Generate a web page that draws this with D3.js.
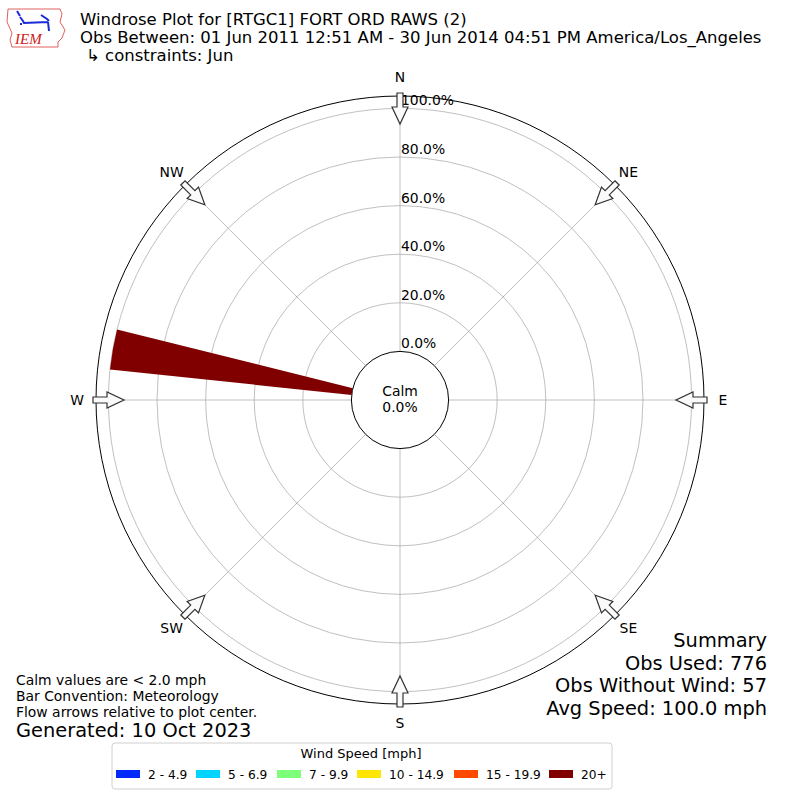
<!DOCTYPE html>
<html>
<head>
<meta charset="utf-8">
<script src="https://cdn.jsdelivr.net/npm/d3@7"></script>
<style>
body { margin: 0; background: #fff; }
text { font-family: "DejaVu Sans", sans-serif; fill: #000; }
</style>
</head>
<body>
<svg id="chart" width="800" height="800"></svg>
<script>
// data
var titleLines = ["Windrose Plot for [RTGC1] FORT ORD RAWS (2)",
  "Obs Between: 01 Jun 2011 12:51 AM - 30 Jun 2014 04:51 PM America/Los_Angeles",
  "\u21b3 constraints: Jun"];
var compassLabels = ["N", "NE", "E", "SE", "S", "SW", "W", "NW"];
var compassAngles = [0, 45, 90, 135, 180, 225, 270, 315];
var ringTicks = [0, 20, 40, 60, 80, 100];
var speedLabels = ["2 - 4.9", "5 - 6.9", "7 - 9.9", "10 - 14.9", "15 - 19.9", "20+"];
var speedColors = ["#0028ff", "#00d4ff", "#7dff7a", "#ffe500", "#ff4800", "#800000"];
var barDirections = [280];
// percent of obs per speed bin, one value per direction
var barPercents = [[0], [0], [0], [0], [0], [100]];
var calmPct = "0.0%";
var summaryLines = ["Summary", "Obs Used: 776", "Obs Without Wind: 57", "Avg Speed: 100.0 mph"];
var noteLines = ["Calm values are < 2.0 mph", "Bar Convention: Meteorology", "Flow arrows relative to plot center."];
var generated = "Generated: 10 Oct 2023";

var small = "13.9px";
var svg = d3.select("#chart");
var cx = 400, cy = 400;
var calmR = 48.6, outerR = 304;
var r = d3.scaleLinear().domain([0, 100]).range([calmR, 291.6]);
var rad = function(deg) { return deg * Math.PI / 180; };

var g = svg.append("g").attr("transform", "translate(" + cx + "," + cy + ")");

// rings
g.selectAll("circle.ring")
  .data(ringTicks.slice(1))
  .enter().append("circle")
  .attr("r", function(d) { return r(d); })
  .style("fill", "none")
  .style("stroke", "#b0b0b0")
  .style("stroke-width", 0.8);

// spokes
g.selectAll("line.spoke")
  .data(compassAngles)
  .enter().append("line")
  .attr("x1", function(d) { return calmR * Math.sin(rad(d)); })
  .attr("y1", function(d) { return -calmR * Math.cos(rad(d)); })
  .attr("x2", function(d) { return outerR * Math.sin(rad(d)); })
  .attr("y2", function(d) { return -outerR * Math.cos(rad(d)); })
  .style("stroke", "#b0b0b0")
  .style("stroke-width", 0.8);

// bars, stacked by speed bin
var stacked = [];
barDirections.forEach(function(dir, j) {
  var base = 0;
  barPercents.forEach(function(vals, i) {
    if (vals[j] > 0) stacked.push({dir: dir, lo: base, hi: base + vals[j], color: speedColors[i]});
    base += vals[j];
  });
});
var arc = d3.arc()
  .innerRadius(function(d) { return r(d.lo); })
  .outerRadius(function(d) { return r(d.hi); })
  .startAngle(function(d) { return rad(d.dir - 4); })
  .endAngle(function(d) { return rad(d.dir + 4); });
g.selectAll("path.bar")
  .data(stacked)
  .enter().append("path")
  .attr("d", arc)
  .style("fill", function(d) { return d.color; });

// outer frame and calm circle
g.append("circle").attr("r", outerR)
  .style("fill", "none").style("stroke", "#000").style("stroke-width", 1);
g.append("circle").attr("r", calmR)
  .style("fill", "#fff").style("stroke", "#000").style("stroke-width", 1);
g.append("text").attr("y", -4).attr("text-anchor", "middle")
  .style("font-size", small).text("Calm");
g.append("text").attr("y", 12).attr("text-anchor", "middle")
  .style("font-size", small).text(calmPct);

// ring labels
g.selectAll("text.rlab")
  .data(ringTicks)
  .enter().append("text")
  .attr("x", 1)
  .attr("y", function(d) { return -r(d) - 3; })
  .style("font-size", small)
  .text(function(d) { return d.toFixed(1) + "%"; });

// flow arrows pointing to center
var arrow = "M-3,-307 L3,-307 L3,-293 L8,-293 L0,-276 L-8,-293 L-3,-293 Z";
g.selectAll("path.arrow")
  .data(compassAngles)
  .enter().append("path")
  .attr("d", arrow)
  .attr("transform", function(d) { return "rotate(" + d + ")"; })
  .style("fill", "#fafafa")
  .style("stroke", "#333")
  .style("stroke-width", 1.2);

// compass labels
g.selectAll("text.dir")
  .data(compassAngles)
  .enter().append("text")
  .attr("x", function(d) { return 323 * Math.sin(rad(d)); })
  .attr("y", function(d) { return -323 * Math.cos(rad(d)) + 5; })
  .attr("text-anchor", "middle")
  .style("font-size", small)
  .text(function(d, i) { return compassLabels[i]; });

// title
svg.selectAll("text.title")
  .data(titleLines)
  .enter().append("text")
  .attr("x", function(d, i) { return i == 2 ? 86 : 80; })
  .attr("y", function(d, i) { return 25 + i * 18; })
  .style("font-size", "16.5px")
  .text(function(d) { return d; });

// logo
var logo = svg.append("g");
logo.append("path")
  .attr("d", "M8,9 L60,9 L62,14 L60,22 L65,30 L62,38 L58,42 L58,47 L12,47 L10,40 L12,33 L7,22 Z")
  .style("fill", "#fff").style("stroke", "#e06060").style("stroke-width", 1);
logo.append("path")
  .attr("d", "M17,11 L20,16 M20,17 L23,21 L24,23 L48,22 M41,15 L47,19 L49,21 M48,22 L49,31 M21,23 L21,25")
  .style("fill", "none").style("stroke", "#1a2ad8").style("stroke-width", 2);
logo.append("text").attr("x", 15).attr("y", 44)
  .style("font-family", "'Liberation Serif', serif").style("font-style", "italic")
  .style("font-size", "15px").style("fill", "#d02020").text("IEM");

// summary
svg.selectAll("text.summary")
  .data(summaryLines)
  .enter().append("text")
  .attr("x", 767)
  .attr("y", function(d, i) { return 647 + i * 22.5; })
  .attr("text-anchor", "end")
  .style("font-size", "19.4px")
  .text(function(d) { return d; });

// notes
svg.selectAll("text.note")
  .data(noteLines)
  .enter().append("text")
  .attr("x", 16)
  .attr("y", function(d, i) { return 685 + i * 16; })
  .style("font-size", small)
  .text(function(d) { return d; });
svg.append("text").attr("x", 16).attr("y", 737)
  .style("font-size", "19.4px").text(generated);

// legend
var leg = svg.append("g");
leg.append("rect").attr("x", 112).attr("y", 743).attr("width", 500).attr("height", 46)
  .attr("rx", 3).style("fill", "#fff").style("stroke", "#d0d0d0");
leg.append("text").attr("x", 361).attr("y", 758).attr("text-anchor", "middle")
  .style("font-size", "13px").text("Wind Speed [mph]");
var legX = [116, 196, 277, 357, 454, 549];
var item = leg.selectAll("g.item")
  .data(speedLabels)
  .enter().append("g")
  .attr("transform", function(d, i) { return "translate(" + legX[i] + ",770)"; });
item.append("rect").attr("width", 24).attr("height", 8)
  .style("fill", function(d, i) { return speedColors[i]; });
item.append("text").attr("x", 32).attr("y", 9)
  .style("font-size", "12.2px").text(function(d) { return d; });
</script>
</body>
</html>
